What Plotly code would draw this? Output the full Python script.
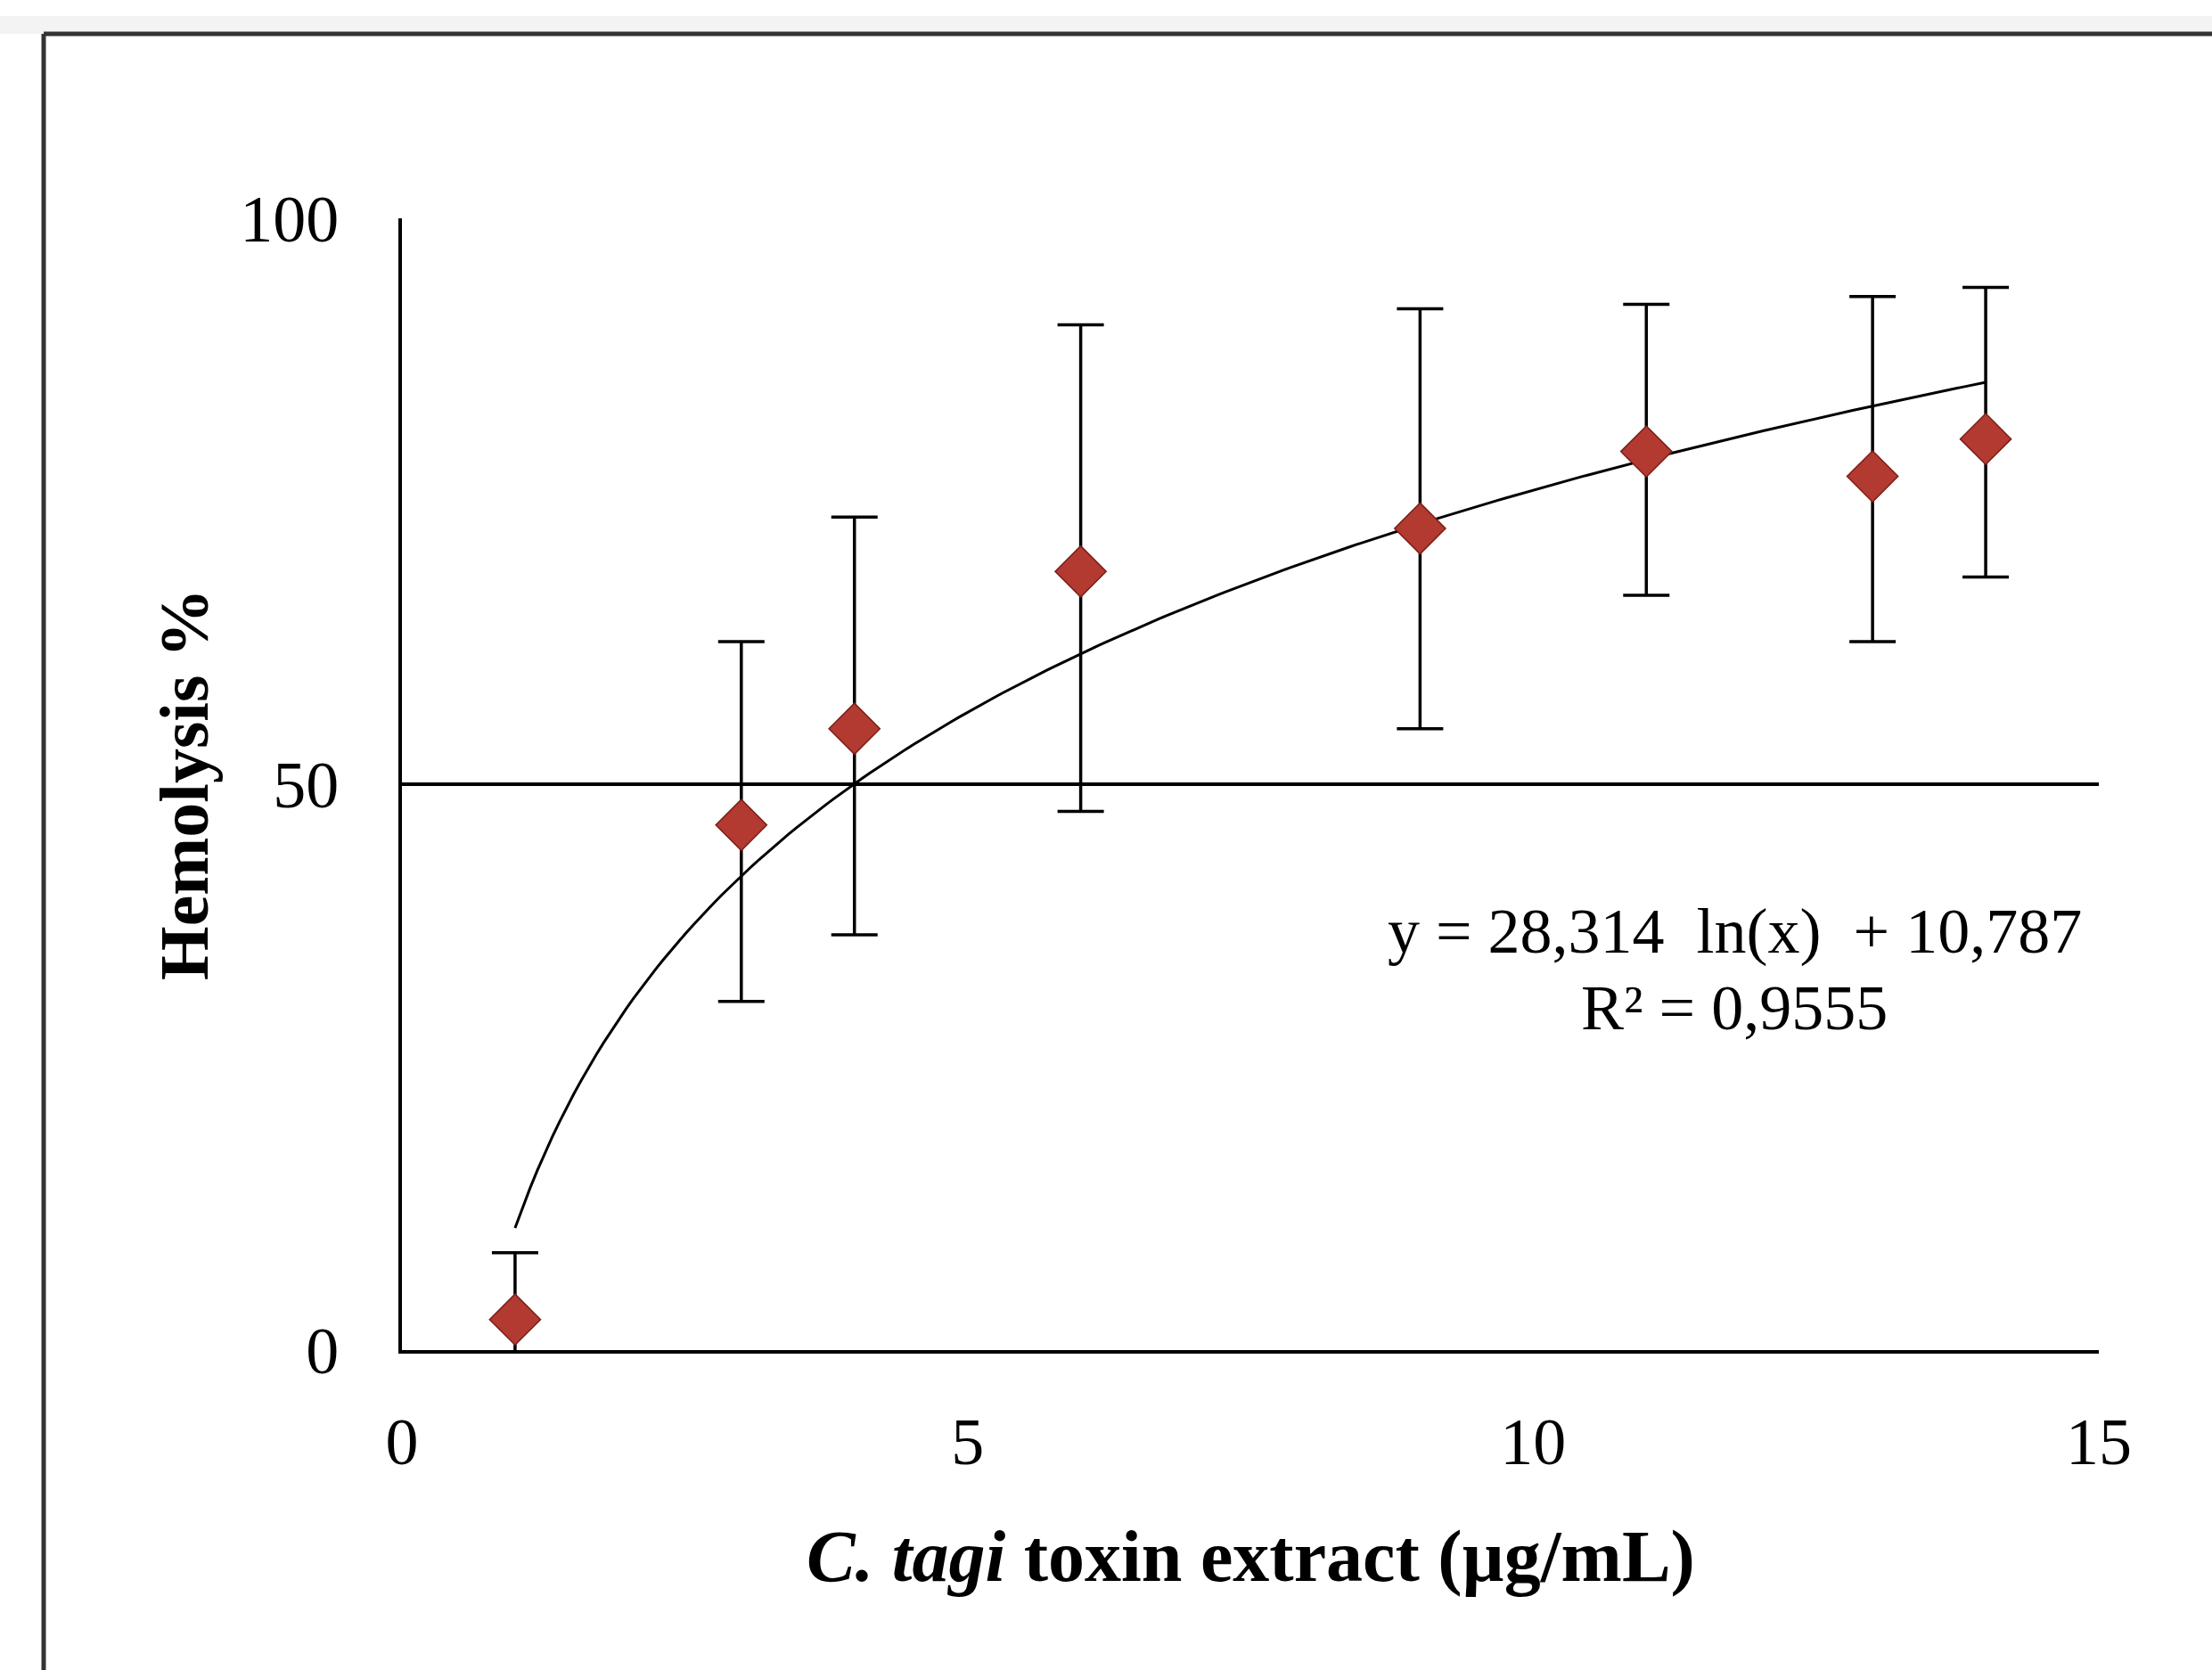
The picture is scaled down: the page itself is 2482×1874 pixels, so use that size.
import numpy as np
import plotly.graph_objects as go

# ---- data ----
conc = [1, 3, 4, 6, 9, 11, 13, 14]
hemolysis = [2.7, 46.4, 54.9, 68.8, 72.6, 79.4, 77.2, 80.5]
err_plus = [5.9, 16.2, 18.7, 21.8, 19.4, 13.0, 15.9, 13.4]
err_minus = [5.9, 15.6, 18.2, 21.2, 17.7, 12.7, 14.6, 12.2]

# logarithmic trendline as printed on the chart
coef_a = 28.314
coef_b = 10.787
eq_line1 = "y = 28,314  ln(x)  + 10,787"
eq_line2 = "R² = 0,9555"

x_ticks = [0, 5, 10, 15]
y_ticks = [0, 50, 100]

W, H = 2482, 1874
L, R, T, B = 451, 127, 245, 359
FONT = "Liberation Serif"

fit_x = np.linspace(min(conc), max(conc), 200)
fit_y = coef_a * np.log(fit_x) + coef_b

fig = go.Figure()
fig.add_trace(go.Scatter(
    x=fit_x, y=fit_y, mode="lines",
    line=dict(color="black", width=3), hoverinfo="skip", showlegend=False,
))
fig.add_trace(go.Scatter(
    x=conc, y=hemolysis, mode="markers",
    marker=dict(symbol="diamond", size=44, color="#B23A31",
                line=dict(color="#7a1f18", width=1.5)),
    error_y=dict(type="data", symmetric=False, array=err_plus, arrayminus=err_minus,
                 color="black", thickness=3.5, width=26),
    cliponaxis=True, showlegend=False,
))

# outer frame (paper coordinates computed from pixel positions)
pw, ph = W - L - R, H - T - B
def px(xpix):
    return (xpix - L) / pw
def py(ypix):
    return (H - B - ypix) / ph

fig.add_shape(type="rect", xref="paper", yref="paper",
              x0=px(0), x1=px(W), y0=py(18), y1=py(38),
              fillcolor="#f3f3f3", line=dict(width=0), layer="below")
fig.add_shape(type="line", xref="paper", yref="paper",
              x0=px(49), x1=px(W + 10), y0=py(38), y1=py(38),
              line=dict(color="#333333", width=5))
fig.add_shape(type="line", xref="paper", yref="paper",
              x0=px(49), x1=px(49), y0=py(38), y1=py(H + 10),
              line=dict(color="#333333", width=5))

fig.add_annotation(x=11.78, y=37.0, xref="x", yref="y",
                   text=eq_line1, showarrow=False,
                   xanchor="center", yanchor="middle",
                   font=dict(family=FONT, size=72, color="black"))
fig.add_annotation(x=11.78, y=30.2, xref="x", yref="y",
                   text=eq_line2, showarrow=False,
                   xanchor="center", yanchor="middle",
                   font=dict(family=FONT, size=72, color="black"))

fig.add_annotation(x=0.5, y=py(1746), xref="paper", yref="paper",
                   text="<b><i>C. tagi</i> toxin extract (µg/mL)</b>",
                   xanchor="center", yanchor="middle",
                   showarrow=False, font=dict(family=FONT, size=82, color="black"))
fig.add_annotation(x=px(206), y=0.5, xref="paper", yref="paper",
                   text="<b>Hemolysis %</b>", textangle=-90,
                   xanchor="center", yanchor="middle",
                   showarrow=False, font=dict(family=FONT, size=78, color="black"))

fig.update_layout(
    width=W, height=H,
    margin=dict(l=L, r=R, t=T, b=B, pad=0),
    paper_bgcolor="white", plot_bgcolor="white",
    font=dict(family=FONT, size=74, color="black"),
    showlegend=False,
)
fig.update_xaxes(range=[0, 15], tickvals=x_ticks, ticktext=[str(v) for v in x_ticks],
                 showgrid=False, zeroline=False, showline=True, linecolor="black",
                 linewidth=4, ticks="", ticklabelstandoff=35,
                 tickfont=dict(family=FONT, size=74, color="black"))
fig.update_yaxes(range=[0, 100], tickvals=y_ticks, ticktext=[str(v) for v in y_ticks],
                 showgrid=True, gridcolor="black", gridwidth=3.5, zeroline=False,
                 showline=True, linecolor="black", linewidth=4, ticks="",
                 ticklabelstandoff=52,
                 tickfont=dict(family=FONT, size=74, color="black"))

fig.write_html("out.html", config={"displayModeBar": False},
               post_script="document.body.style.margin='0';document.body.style.overflow='hidden';")
